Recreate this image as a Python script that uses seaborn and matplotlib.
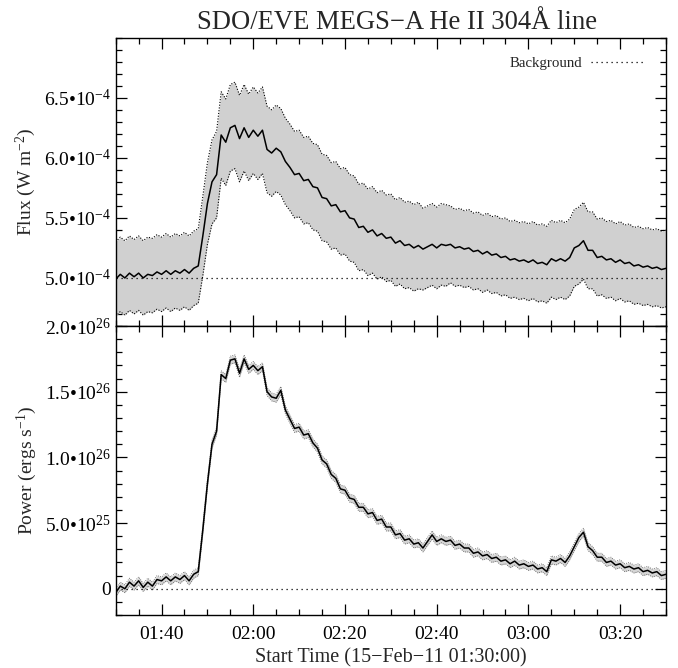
import numpy as np
import pandas as pd
import matplotlib
matplotlib.use("Agg")
import matplotlib.pyplot as plt
import matplotlib.dates as mdates
from matplotlib.ticker import FixedLocator, FixedFormatter, MultipleLocator
import seaborn as sns

# ---------------- data ----------------
start_time = "2011-02-15 01:30:00"
minutes = list(range(121))

# He II 304 flux, units of 1e-4 W m^-2
flux = [4.99, 5.03, 5.00, 5.04, 5.01, 5.04, 5.00, 5.03, 5.02, 5.05,
        5.03, 5.06, 5.03, 5.06, 5.04, 5.07, 5.04, 5.08, 5.10, 5.35,
        5.62, 5.80, 5.86, 6.19, 6.13, 6.25, 6.27, 6.16, 6.25, 6.17,
        6.23, 6.18, 6.23, 6.07, 6.04, 6.08, 6.05, 5.97, 5.92, 5.86,
        5.87, 5.81, 5.82, 5.76, 5.75, 5.67, 5.66, 5.60, 5.61, 5.55,
        5.56, 5.50, 5.49, 5.42, 5.43, 5.38, 5.40, 5.35, 5.37, 5.33,
        5.34, 5.29, 5.31, 5.27, 5.28, 5.25, 5.27, 5.24, 5.26, 5.28,
        5.25, 5.28, 5.27, 5.28, 5.25, 5.26, 5.24, 5.25, 5.22, 5.23,
        5.20, 5.22, 5.19, 5.20, 5.17, 5.18, 5.15, 5.16, 5.14, 5.15,
        5.13, 5.15, 5.12, 5.13, 5.11, 5.16, 5.14, 5.16, 5.14, 5.17,
        5.25, 5.27, 5.31, 5.23, 5.23, 5.17, 5.18, 5.15, 5.16, 5.13,
        5.15, 5.12, 5.13, 5.10, 5.11, 5.09, 5.10, 5.08, 5.09, 5.07,
        5.08]

# flux uncertainty, units of 1e-4 W m^-2
flux_err = [0.31] * 19 + [0.33, 0.34, 0.35] + [0.36] * 45 + [0.34] * 6 + [0.32] * 48

# radiated power, units of 1e26 erg s^-1
power = [-0.03, 0.02, 0.00, 0.05, 0.02, 0.06, 0.01, 0.05, 0.02, 0.07,
         0.06, 0.09, 0.06, 0.09, 0.07, 0.10, 0.06, 0.11, 0.13, 0.45,
         0.80, 1.10, 1.20, 1.63, 1.60, 1.74, 1.75, 1.64, 1.75, 1.67,
         1.70, 1.66, 1.69, 1.50, 1.46, 1.45, 1.51, 1.36, 1.29, 1.22,
         1.23, 1.17, 1.18, 1.11, 1.07, 0.98, 0.95, 0.87, 0.84, 0.76,
         0.75, 0.69, 0.68, 0.62, 0.62, 0.57, 0.58, 0.52, 0.53, 0.47,
         0.47, 0.41, 0.42, 0.37, 0.38, 0.34, 0.35, 0.31, 0.36, 0.41,
         0.36, 0.38, 0.36, 0.37, 0.33, 0.34, 0.31, 0.31, 0.27, 0.28,
         0.25, 0.26, 0.23, 0.24, 0.21, 0.22, 0.19, 0.21, 0.18, 0.19,
         0.17, 0.18, 0.15, 0.16, 0.13, 0.22, 0.21, 0.23, 0.20, 0.25,
         0.32, 0.39, 0.43, 0.32, 0.29, 0.24, 0.24, 0.20, 0.21, 0.18,
         0.19, 0.16, 0.17, 0.15, 0.16, 0.13, 0.14, 0.12, 0.13, 0.10,
         0.11]
power_err = 0.03   # units of 1e26 erg s^-1

background_flux = 5.0   # 1e-4 W m^-2
background_power = 0.0

flux_ticks = [5.0e-4, 5.5e-4, 6.0e-4, 6.5e-4]
flux_tick_labels = ["5.0•10$^{-4}$", "5.5•10$^{-4}$", "6.0•10$^{-4}$", "6.5•10$^{-4}$"]
power_ticks = [0.0, 5.0e25, 1.0e26, 1.5e26, 2.0e26]
power_tick_labels = ["0", "5.0•10$^{25}$", "1.0•10$^{26}$", "1.5•10$^{26}$", "2.0•10$^{26}$"]

title = "SDO/EVE MEGS−A He II 304Å line"
xlabel = "Start Time (15−Feb−11 01:30:00)"

# ---------------- frame ----------------
t0 = pd.Timestamp(start_time)
times = t0 + pd.to_timedelta(minutes, unit="min")
f = np.array(flux) * 1e-4
fe = np.array(flux_err) * 1e-4
p = np.array(power) * 1e26
pe = power_err * 1e26
df = pd.DataFrame({"time": times, "flux": f, "power": p})

sns.set_theme(style="ticks")
plt.rcParams["font.family"] = ["Liberation Serif", "DejaVu Serif"]
plt.rcParams["mathtext.fontset"] = "custom"
plt.rcParams["mathtext.rm"] = "Liberation Serif"
plt.rcParams["mathtext.it"] = "Liberation Serif:italic"
plt.rcParams["mathtext.default"] = "regular"

fig = plt.figure(figsize=(6.78, 6.68), dpi=100)
L, R = 115.7 / 678, 666 / 678
ax1 = fig.add_axes([L, 1 - 326 / 668, R - L, (326 - 37.7) / 668])
ax2 = fig.add_axes([L, 1 - 615 / 668, R - L, (615 - 326) / 668], sharex=ax1)

# --- top panel
ax1.fill_between(df["time"], f - fe, f + fe, color="#d0d0d0", lw=0)
ax1.plot(df["time"], f + fe, ls=(0, (1, 1.5)), color="black", lw=0.8)
ax1.plot(df["time"], f - fe, ls=(0, (1, 1.5)), color="black", lw=0.8)
sns.lineplot(data=df, x="time", y="flux", ax=ax1, color="black", lw=1.1)
ax1.axhline(background_flux * 1e-4, ls=(0, (1, 3)), color="black", lw=0.9,
            label="Background")
ax1.set_ylim(4.6e-4, 7.0e-4)
ax1.yaxis.set_major_locator(FixedLocator(flux_ticks))
ax1.yaxis.set_major_formatter(FixedFormatter(flux_tick_labels))
ax1.yaxis.set_minor_locator(MultipleLocator(0.1e-4))
ax1.set_ylabel("Flux (W m$^{-2}$)", fontsize=14)
ax1.set_xlabel("")
ax1.set_title(title, fontsize=19.2, pad=6.5, x=0.511)
leg = ax1.legend(loc="upper right", frameon=False, fontsize=10.7, markerfirst=False,
                 handlelength=3.6, handletextpad=0.6,
                 bbox_to_anchor=(0.985, 0.98))
plt.setp(ax1.get_xticklabels(), visible=False)

# --- bottom panel
ax2.fill_between(df["time"], p - pe, p + pe, color="#d5d5d5", lw=0)
ax2.plot(df["time"], p + pe, ls=(0, (1, 1.5)), color="#555555", lw=0.6)
ax2.plot(df["time"], p - pe, ls=(0, (1, 1.5)), color="#555555", lw=0.6)
sns.lineplot(data=df, x="time", y="power", ax=ax2, color="black", lw=1.1)
ax2.axhline(background_power, ls=(0, (1, 3)), color="black", lw=0.9)
ax2.set_ylim(-0.2e26, 2.0e26)
ax2.yaxis.set_major_locator(FixedLocator(power_ticks))
ax2.yaxis.set_major_formatter(FixedFormatter(power_tick_labels))
ax2.yaxis.set_minor_locator(MultipleLocator(0.1e26))
ax2.set_ylabel("Power (ergs s$^{-1}$)", fontsize=14)
ax2.set_xlabel(xlabel, fontsize=14.5, labelpad=4)

ax2.set_xlim(t0, t0 + pd.Timedelta(minutes=120))
ax2.xaxis.set_major_locator(mdates.MinuteLocator(byminute=[0, 20, 40]))
ax2.xaxis.set_minor_locator(mdates.MinuteLocator(byminute=range(0, 60, 5)))
ax2.xaxis.set_major_formatter(mdates.DateFormatter("%H:%M"))

for ax in (ax1, ax2):
    for s in ax.spines.values():
        s.set_linewidth(1.0)
        s.set_color("black")
        s.set_visible(True)
    ax.tick_params(which="both", direction="in", top=True, right=True,
                   colors="black", width=0.9, labelsize=14)
    ax.tick_params(which="major", length=8)
    ax.tick_params(which="minor", length=4.5)
    ax.grid(False)
    ax.set_facecolor("white")
ax2.tick_params(axis="x", which="major", pad=8)

fig.savefig("out.png", dpi=100, facecolor="white")
